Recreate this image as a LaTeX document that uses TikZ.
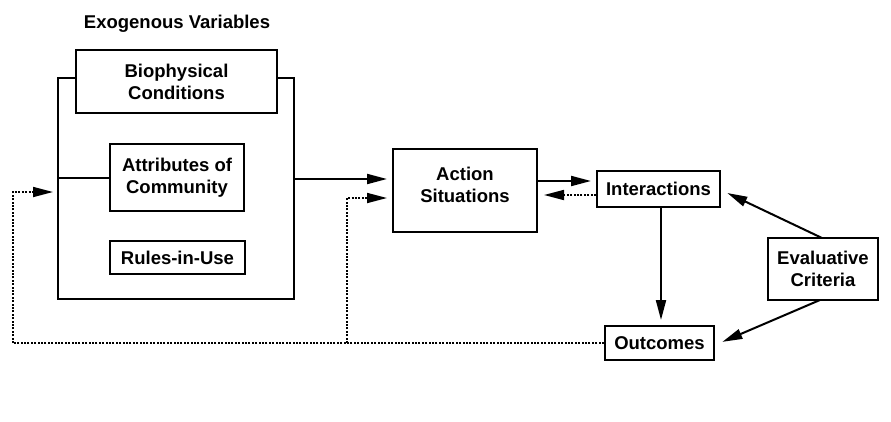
\documentclass[tikz,border=0pt]{standalone}
\usepackage{fontspec}
\setmainfont{Liberation Sans}
\usetikzlibrary{arrows.meta}
\tikzset{
	box/.style = {draw, line width=2pt, inner sep=0pt, align=center, font=\fontsize{18.5}{22}\selectfont\bfseries},
	txt/.style = {inner sep=0pt, align=center, font=\fontsize{18.5}{22}\selectfont\bfseries},
	tip/.style = {-{Triangle[length=20pt,width=10pt]}},
	arr/.style = {line width=2pt, tip},
	fb/.style = {line width=1.7pt, dash pattern=on 2pt off 1.4pt}
}

\begin{document}
\begin{tikzpicture}[x=1pt, y=-1pt]
	\useasboundingbox (0,0) rectangle (891,421);
	% ====== Exogenous variables ========
	\coordinate (exoNW) at (58,78);
	\coordinate (exoSE) at (294,299);
	\node[txt] (exolabel) at (177,24) {Exogenous Variables};
	\node[box, minimum width=201pt, minimum height=63pt] (bio) at (176.5,81.5) {Biophysical\\Conditions};
	\node[box, minimum width=134pt, minimum height=67pt] (attr) at (177,177.5) {Attributes of\\Community};
	\node[box, minimum width=135pt, minimum height=33pt] (rules) at (177.5,257.5) {Rules-in-Use};
	\draw[line width=2pt] (bio.west |- exoNW) -- (exoNW) -- (exoNW |- exoSE) -- (exoSE) -- (exoSE |- exoNW) -- (bio.east |- exoNW);
	\draw[line width=2pt] (exoNW |- attr.west) -- (attr.west);
	% ====== Action arena ========
	\node[box, minimum width=144pt, minimum height=83pt] (action) at (465,190.5) {};
	\node[txt] (actionlabel) at (465,185) {Action\\Situations};
	\node[box, minimum width=123pt, minimum height=36pt] (inter) at (658.5,189) {Interactions};
	\node[box, minimum width=109pt, minimum height=34pt] (out) at (659.5,343) {Outcomes};
	\node[box, minimum width=110pt, minimum height=62pt] (eval) at (823,269) {Evaluative\\Criteria};
	% ====== Links ========
	\draw[arr, shorten >=5pt] (exoSE |- 0,179) -- (action.west |- 0,179);
	\draw[arr, shorten >=5pt] (action.east |- 0,181) -- (inter.west |- 0,181);
	\draw[fb, tip, shorten >=6pt] (inter.west |- 0,195) -- (action.east |- 0,195);
	\draw[arr, shorten >=5pt] (inter.south -| 661,0) -- (out.north -| 661,0);
	\draw[arr, shorten >=7pt] (822,238) -- (inter.east |- 0,190);
	\draw[arr, shorten >=8pt] (820,300) -- (out.east |- 0,345);
	% ====== Feedback ========
	\coordinate (fbL) at (13,343);
	\coordinate (fbM) at (347,343);
	\draw[fb] (out.west) -- (fbL);
	\draw[fb, tip, shorten >=5pt] (fbL) -- (fbL |- 0,192) -- (exoNW |- 0,192);
	\draw[fb, tip, shorten >=5pt] (fbM) -- (fbM |- 0,198) -- (action.west |- 0,198);
\end{tikzpicture}
\end{document}
